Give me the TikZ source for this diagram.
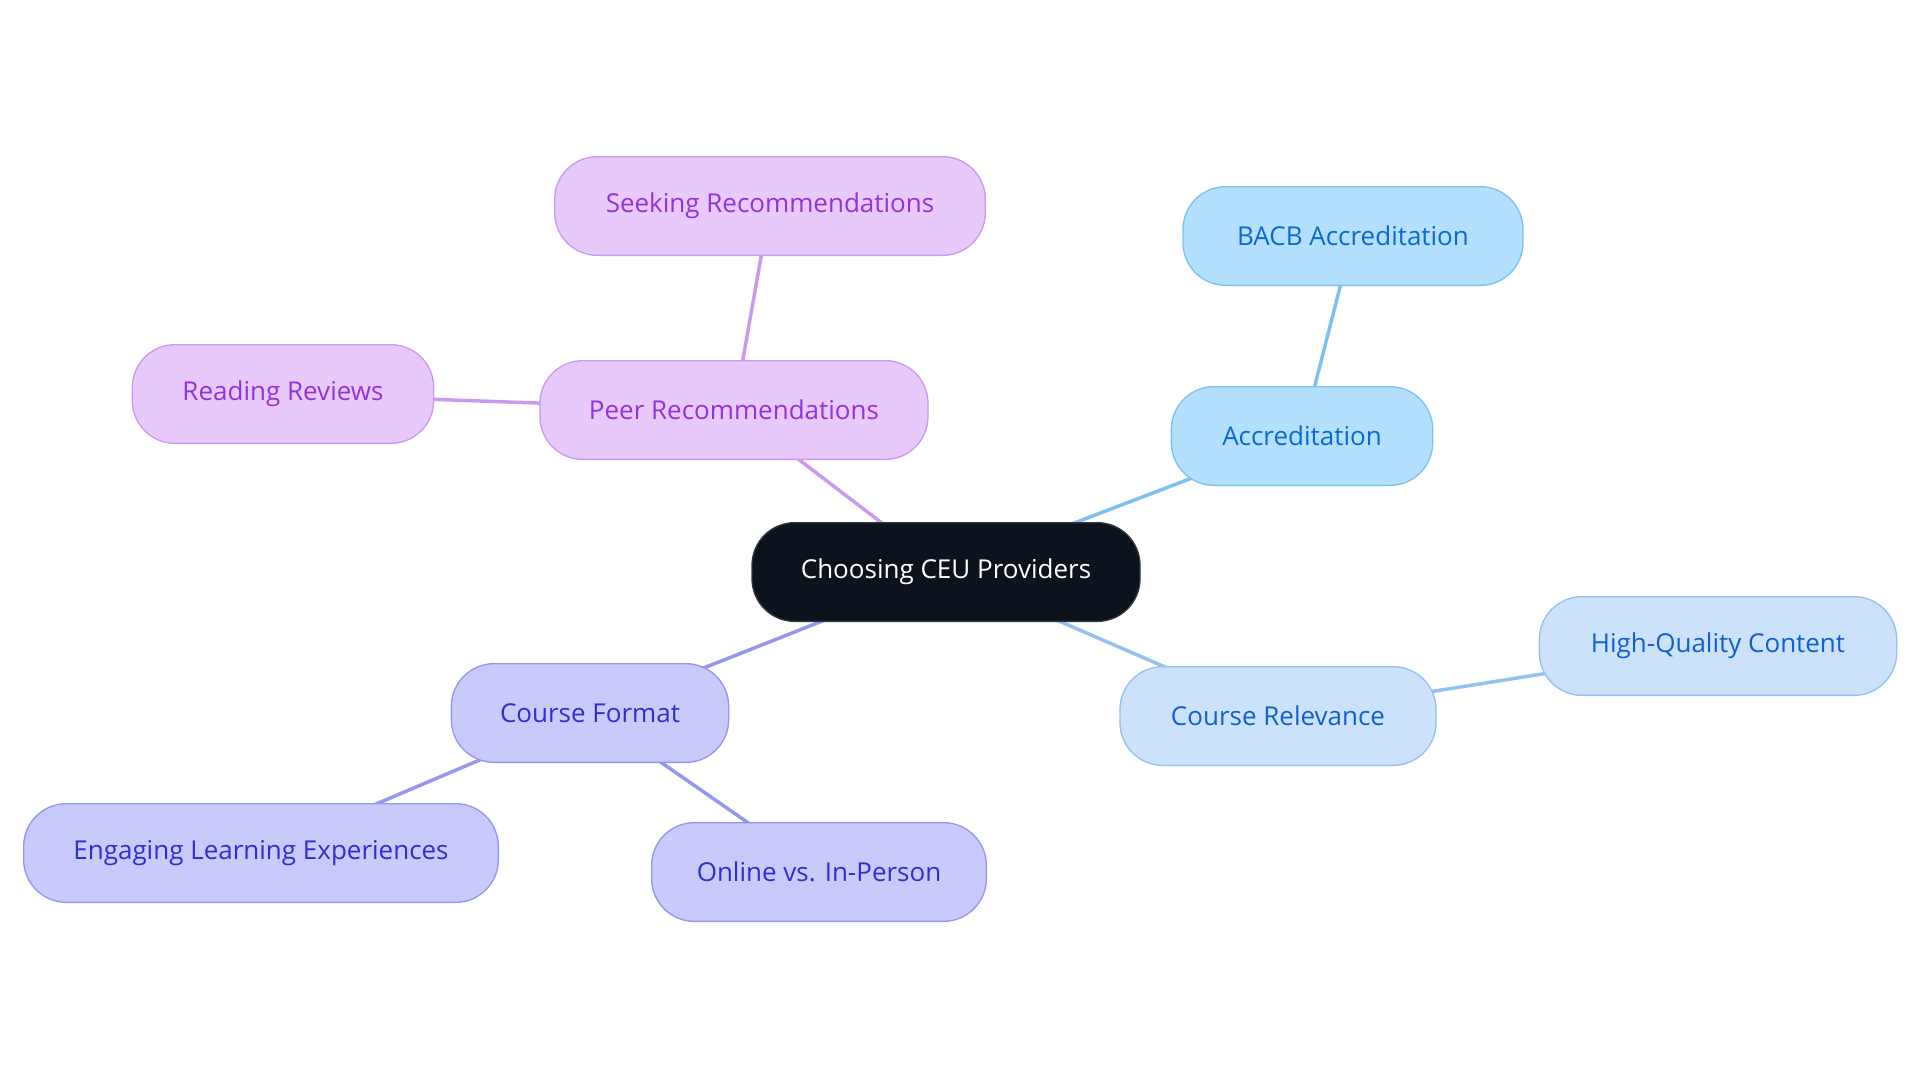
\documentclass[tikz,border=0pt]{standalone}
\usepackage{fontspec}
\setmainfont{Open Sans}
\usetikzlibrary{backgrounds}
\definecolor{rootfill}{HTML}{0D131C}
\definecolor{rootline}{HTML}{30363E}
\definecolor{accfill}{HTML}{B3E0FF}
\definecolor{accline}{HTML}{7CC1F0}
\definecolor{acctext}{HTML}{0A6ACD}
\definecolor{relfill}{HTML}{CCE2FA}
\definecolor{relline}{HTML}{94C1EF}
\definecolor{reltext}{HTML}{1260CC}
\definecolor{peerfill}{HTML}{E8C9FC}
\definecolor{peerline}{HTML}{C99AEE}
\definecolor{peertext}{HTML}{9333D9}
\definecolor{fmtfill}{HTML}{C8CAFC}
\definecolor{fmtline}{HTML}{9596EC}
\definecolor{fmttext}{HTML}{2F2FCF}
\tikzset{
  pill/.style={rectangle, rounded corners=32pt, minimum height=74pt, inner xsep=4pt,
    line width=1pt, font=\fontsize{19.5}{22}\selectfont},
  root/.style={pill, fill=rootfill, draw=rootline, text=white},
  acc/.style={pill, fill=accfill, draw=accline, text=acctext},
  rel/.style={pill, fill=relfill, draw=relline, text=reltext},
  peer/.style={pill, fill=peerfill, draw=peerline, text=peertext},
  fmt/.style={pill, fill=fmtfill, draw=fmtline, text=fmttext},
  link/.style={line width=2.6pt}
}
\begin{document}
\begin{tikzpicture}[x=0.75pt, y=-0.75pt]
\useasboundingbox (0,0) rectangle (1920,1083);
{
\node[root, minimum width=291pt] (ceu)  at (946, 572) {Choosing CEU Providers};

\node[acc, minimum width=196pt]  (acc)  at (1302, 436) {Accreditation};
\node[acc, minimum width=255pt]  (bacb) at (1353, 236) {BACB Accreditation};

\node[rel, minimum width=237pt]  (rel)  at (1278, 716) {Course Relevance};
\node[rel, minimum width=268pt]  (hqc)  at (1718, 646) {High-Quality Content};

\node[peer, minimum width=291pt] (peer) at (734, 410) {Peer Recommendations};
\node[peer, minimum width=323pt] (seek) at (770, 206) {Seeking Recommendations};
\node[peer, minimum width=226pt] (rev)  at (283, 394) {Reading Reviews};

\node[fmt, minimum width=208pt]  (fmt)  at (590, 713) {Course Format};
\node[fmt, minimum width=356pt]  (eng)  at (261, 853) {Engaging Learning Experiences};
\node[fmt, minimum width=251pt]  (onl)  at (819, 872) {Online vs. In-Person};

\begin{scope}[on background layer]
\draw[link, accline]  (ceu.center) -- (acc.center);
\draw[link, accline]  (acc.center) -- (bacb.center);
\draw[link, relline]  (ceu.center) -- (rel.center);
\draw[link, relline]  (rel.center) -- (hqc.center);
\draw[link, peerline] (ceu.center) -- (peer.center);
\draw[link, peerline] (peer.center) -- (seek.center);
\draw[link, peerline] (peer.center) -- (rev.center);
\draw[link, fmtline]  (ceu.center) -- (fmt.center);
\draw[link, fmtline]  (fmt.center) -- (eng.center);
\draw[link, fmtline]  (fmt.center) -- (onl.center);
\end{scope}
}
\end{tikzpicture}
\end{document}
